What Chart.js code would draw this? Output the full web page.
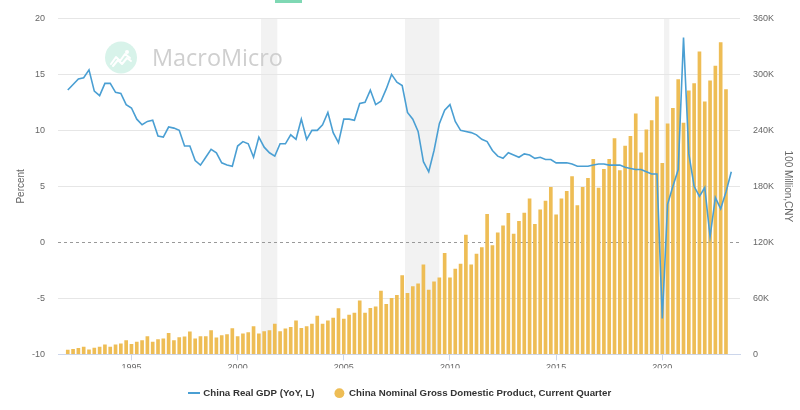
<!DOCTYPE html>
<html>
<head>
<meta charset="utf-8">
<script src="https://cdn.jsdelivr.net/npm/chart.js@4.4.0/dist/chart.umd.min.js"></script>
<style>
  html, body { margin: 0; padding: 0; background: #ffffff; }
  #wrap { width: 800px; height: 410px; position: relative; }
</style>
</head>
<body>
<div id="wrap"><canvas id="c" width="800" height="410"></canvas></div>
<script>
// ---------- DATA ----------
const startYear = 1992; // first quarter: 1992 Q1
const seriesNames = ['China Real GDP (YoY, L)', 'China Nominal Gross Domestic Product, Current Quarter'];

// China Real GDP, YoY %, quarterly 1992Q1 .. 2023Q2
const realGdpYoY = [
  13.6, 14.1, 14.6, 14.7,   // 1992
  15.4, 13.5, 13.1, 14.2,   // 1993
  14.2, 13.4, 13.3, 12.3,   // 1994
  12.0, 11.0, 10.5, 10.8,   // 1995
  10.9, 9.5, 9.4, 10.3,     // 1996
  10.2, 10.0, 8.6, 8.6,     // 1997
  7.3, 6.9, 7.6, 8.3,       // 1998
  8.0, 7.1, 6.9, 6.8,       // 1999
  8.6, 9.0, 8.8, 7.6,       // 2000
  9.4, 8.5, 8.0, 7.7,       // 2001
  8.8, 8.8, 9.6, 9.2,       // 2002
  11.0, 9.2, 10.0, 10.0,    // 2003
  10.5, 11.6, 9.8, 8.9,     // 2004
  11.0, 11.0, 10.9, 12.4,   // 2005
  12.5, 13.6, 12.3, 12.6,   // 2006
  13.7, 15.0, 14.3, 14.0,   // 2007
  11.6, 11.0, 9.9, 7.2,     // 2008
  6.3, 8.2, 10.6, 11.8,     // 2009
  12.3, 10.8, 10.0, 9.9,    // 2010
  9.8, 9.6, 9.2, 9.0,       // 2011
  8.2, 7.7, 7.5, 8.0,       // 2012
  7.8, 7.6, 7.9, 7.8,       // 2013
  7.5, 7.6, 7.4, 7.4,       // 2014
  7.1, 7.1, 7.1, 7.0,       // 2015
  6.8, 6.8, 6.8, 6.9,       // 2016
  7.0, 7.0, 6.9, 6.9,       // 2017
  6.9, 6.7, 6.6, 6.5,       // 2018
  6.5, 6.3, 6.1, 6.1,       // 2019
  -6.8, 3.4, 5.0, 6.5,      // 2020
  18.3, 7.9, 5.0, 4.1,      // 2021
  4.9, 0.5, 4.0, 3.0,       // 2022
  4.5, 6.3                  // 2023
];

// China Nominal GDP, current quarter, 100 million CNY, 1992Q1 .. 2023Q1
const nominalGdp = [
  4500, 5300, 6400, 7800,          // 1992
  4900, 6600, 7800, 10200,         // 1993
  7800, 10200, 11300, 14800,       // 1994
  10600, 13100, 14800, 19100,      // 1995
  13100, 15900, 16600, 22600,      // 1996
  14800, 18000, 18700, 24000,      // 1997
  16600, 19100, 19100, 25400,      // 1998
  17600, 20100, 21200, 27500,      // 1999
  19100, 21900, 23300, 29600,      // 2000
  21900, 24400, 25400, 32500,      // 2001
  24400, 27200, 28900, 36000,      // 2002
  27900, 29600, 32500, 40900,      // 2003
  32500, 36000, 38800, 49100,      // 2004
  37800, 42000, 44100, 57200,      // 2005
  44100, 49400, 50800, 67800,      // 2006
  53600, 60000, 63200, 84400,      // 2007
  65300, 72700, 75500, 96000,      // 2008
  68800, 77600, 81900, 108300,     // 2009
  81900, 91400, 96700, 127800,     // 2010
  96000, 107300, 114400, 150000,   // 2011
  116500, 130200, 137600, 151000,  // 2012
  128800, 142600, 151400, 166600,  // 2013
  139400, 154900, 164100, 178900,  // 2014
  149600, 166600, 174700, 190600,  // 2015
  159500, 178900, 188500, 208900,  // 2016
  178200, 198300, 208900, 231100,  // 2017
  197000, 223100, 233600, 257600,  // 2018
  216000, 240700, 250600, 276000,  // 2019
  204700, 247000, 263600, 294300,  // 2020
  247800, 282400, 290100, 324300,  // 2021
  270700, 293000, 308800, 334200,  // 2022
  283800                           // 2023
];

const yearTicks = [1995, 2000, 2005, 2010, 2015, 2020];
const leftTicks = [-10, -5, 0, 5, 10, 15, 20];
const rightTicks = [0, 60000, 120000, 180000, 240000, 300000, 360000];
const rightTickLabels = ['0', '60K', '120K', '180K', '240K', '300K', '360K'];
// shaded periods, in decimal years
const shadedPeriods = [[2001.10, 2001.87], [2007.88, 2009.50], [2020.08, 2020.33]];

// ---------- BUILD ----------
const quarterX = realGdpYoY.map((_, i) => startYear + i / 4);
const lineData = realGdpYoY.map((v, i) => ({ x: quarterX[i], y: v }));
const barData = nominalGdp.map((v, i) => ({ x: quarterX[i], y: v }));

const lineColor = '#4a9fd3';
const barColor = '#eebd55';
const tickColor = '#666666';
const FONT = '"Liberation Sans", Arial, Helvetica, sans-serif';
Chart.defaults.font.family = FONT;

// legend line symbol
const lineSym = document.createElement('canvas');
lineSym.width = 12; lineSym.height = 2;
(function () { const g = lineSym.getContext('2d'); g.fillStyle = lineColor; g.fillRect(0, 0, 12, 2); })();

const decor = {
  id: 'decor',
  beforeDraw(chart) {
    const { ctx, chartArea: a, scales: { x } } = chart;
    ctx.save();
    // shaded periods
    ctx.fillStyle = '#f2f2f2';
    shadedPeriods.forEach(([s, e]) => {
      const x0 = x.getPixelForValue(s), x1 = x.getPixelForValue(e);
      ctx.fillRect(x0, a.top, x1 - x0, a.bottom - a.top);
    });
    // watermark
    ctx.fillStyle = '#d8f3ea';
    ctx.beginPath(); ctx.arc(121, 57.5, 16, 0, Math.PI * 2); ctx.fill();
    ctx.strokeStyle = '#ffffff'; ctx.lineWidth = 2; ctx.lineJoin = 'round'; ctx.lineCap = 'round';
    ctx.beginPath();
    ctx.moveTo(111, 64); ctx.lineTo(116, 57); ctx.lineTo(120, 61); ctx.lineTo(125, 54); ctx.lineTo(130, 58);
    ctx.stroke();
    ctx.beginPath();
    ctx.moveTo(113, 66); ctx.lineTo(118, 60); ctx.lineTo(122, 64); ctx.lineTo(127, 58); ctx.lineTo(131, 61);
    ctx.stroke();
    ctx.beginPath(); ctx.arc(127, 52, 2, 0, Math.PI * 2); ctx.fillStyle = '#ffffff'; ctx.fill();
    ctx.fillStyle = '#cfcfcf';
    ctx.font = '100px "Open Sans", ' + FONT;
    const w100 = ctx.measureText('MacroMicro').width;
    const fs = 100 * 131 / w100;
    ctx.font = fs.toFixed(2) + 'px "Open Sans", ' + FONT;
    ctx.textBaseline = 'alphabetic';
    ctx.fillText('MacroMicro', 152, 65.5);
    ctx.restore();
  },
  beforeDatasetsDraw(chart) {
    const { ctx, chartArea: a, scales: { y } } = chart;
    const y0 = Math.round(y.getPixelForValue(0)) + 0.5;
    ctx.save();
    ctx.strokeStyle = '#999999';
    ctx.lineWidth = 1;
    ctx.setLineDash([3, 3]);
    ctx.beginPath(); ctx.moveTo(a.left, y0); ctx.lineTo(a.right, y0); ctx.stroke();
    ctx.restore();
  },
  afterDraw(chart) {
    const { ctx } = chart;
    ctx.save();
    ctx.fillStyle = '#7fd8b4';
    ctx.fillRect(275, 0, 27, 3);
    ctx.restore();
  }
};

new Chart(document.getElementById('c'), {
  type: 'bar',
  data: {
    datasets: [
      {
        type: 'line', label: seriesNames[0], data: lineData, yAxisID: 'y',
        borderColor: lineColor, backgroundColor: lineColor, borderWidth: 1.6,
        pointRadius: 0, pointHoverRadius: 0, pointStyle: lineSym, tension: 0, order: 0
      },
      {
        type: 'bar', label: seriesNames[1], data: barData, yAxisID: 'y1',
        backgroundColor: barColor, borderColor: barColor, borderWidth: 0, barThickness: 3,
        pointStyle: 'circle', order: 1
      }
    ]
  },
  options: {
    responsive: false,
    animation: false,
    devicePixelRatio: 1,
    layout: { padding: { top: 14, bottom: 2, left: 0, right: 0 } },
    plugins: {
      tooltip: { enabled: false },
      legend: {
        position: 'bottom',
        align: 'center',
        labels: {
          usePointStyle: true,
          boxHeight: 7,
          padding: 20,
          color: '#333333',
          font: { family: FONT, size: 9.7, weight: 'bold' }
        }
      }
    },
    scales: {
      x: {
        type: 'linear',
        min: 1991.54,
        max: 2023.66,
        offset: false,
        afterBuildTicks: s => { s.ticks = yearTicks.map(v => ({ value: v })); },
        afterFit: s => { s.height = 14; },
        grid: { offset: false, drawOnChartArea: false, drawTicks: true, tickLength: 6, tickColor: '#ccd6eb', color: '#ccd6eb' },
        border: { display: true, color: '#ccd6eb', width: 1 },
        ticks: { padding: 2, color: tickColor, font: { size: 9 }, autoSkip: false, maxRotation: 0, callback: v => String(v) }
      },
      y: {
        position: 'left',
        min: -10, max: 20,
        afterBuildTicks: s => { s.ticks = leftTicks.map(v => ({ value: v })); },
        afterFit: s => { s.width = 58; },
        grid: { color: c => (c.tick && c.tick.value === 0) ? 'rgba(0,0,0,0)' : '#e6e6e6', drawTicks: false, lineWidth: 1 },
        border: { display: false },
        ticks: { padding: 13, color: tickColor, font: { size: 9 }, callback: v => String(v) },
        title: { display: true, text: 'Percent', color: tickColor, font: { size: 10 }, padding: { top: 15, bottom: 0 } }
      },
      y1: {
        position: 'right',
        min: 0, max: 360000,
        afterBuildTicks: s => { s.ticks = rightTicks.map(v => ({ value: v })); },
        afterFit: s => { s.width = 60; },
        grid: { drawOnChartArea: false, drawTicks: false },
        border: { display: false },
        ticks: { padding: 13, color: tickColor, font: { size: 9 }, callback: v => rightTickLabels[rightTicks.indexOf(v)] },
        title: { display: true, text: '100 Million,CNY', color: tickColor, font: { size: 10 }, padding: { top: 6, bottom: 0 } }
      }
    }
  },
  plugins: [decor]
});
</script>
</body>
</html>
